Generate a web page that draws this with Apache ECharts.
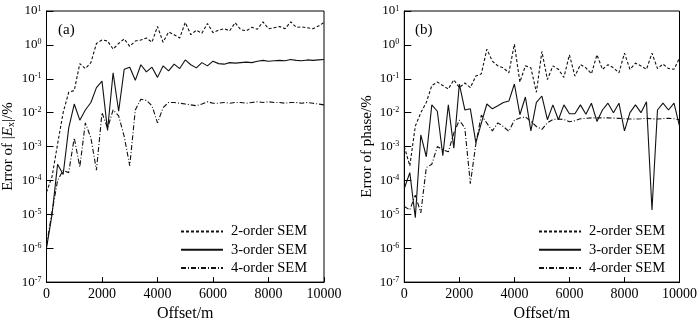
<!DOCTYPE html>
<html>
<head>
<meta charset="utf-8">
<script src="https://cdn.jsdelivr.net/npm/echarts@6/dist/echarts.min.js"></script>
<style>
  html, body { margin: 0; padding: 0; background: #fff; }
  #chart { width: 700px; height: 327px; }
</style>
</head>
<body>
<div id="chart"></div>
<script>
// offset (m)
const offsets = [0, 200, 400, 600, 800, 1000, 1200, 1400, 1600, 1800,
  2000, 2200, 2400, 2600, 2800, 3000, 3200, 3400, 3600, 3800,
  4000, 4200, 4400, 4600, 4800, 5000, 5200, 5400, 5600, 5800,
  6000, 6200, 6400, 6600, 6800, 7000, 7200, 7400, 7600, 7800,
  8000, 8200, 8400, 8600, 8800, 9000, 9200, 9400, 9600, 9800, 10000];

const seriesNames = ['2-order SEM', '3-order SEM', '4-order SEM'];
const xTicks = [0, 2000, 4000, 6000, 8000, 10000];

// (a) error of |Ex| (%)
const exOrder2 = [4.5e-5, 1.3e-4, 1.2e-3, 0.01, 0.04, 0.045, 0.28, 0.2, 0.3, 1.1,
  1.4, 1.3, 0.75, 1.1, 1.5, 0.9, 1.3, 1.4, 1.6, 1.2,
  3.5, 1.2, 2.4, 2.0, 1.6, 4.6, 2.0, 2.7, 2.2, 4.3,
  2.3, 2.7, 3.0, 2.6, 4.5, 2.8, 2.6, 3.3, 2.9, 4.8,
  3.0, 3.2, 3.5, 3.0, 4.8, 3.3, 3.4, 3.2, 3.0, 3.6, 4.6];
const exOrder3 = [1e-6, 1e-5, 3e-4, 1.5e-4, 3.5e-3, 0.018, 6e-3, 0.012, 0.02, 0.055,
  0.085, 3e-3, 0.15, 0.011, 0.19, 0.22, 0.09, 0.26, 0.16, 0.22,
  0.11, 0.24, 0.17, 0.27, 0.2, 0.36, 0.26, 0.21, 0.3, 0.24,
  0.33, 0.28, 0.27, 0.3, 0.29, 0.3, 0.31, 0.3, 0.33, 0.35,
  0.33, 0.34, 0.35, 0.34, 0.37, 0.35, 0.34, 0.36, 0.35, 0.36, 0.37];
const exOrder4 = [1.2e-6, 1.2e-5, 1e-4, 2e-4, 1.7e-4, 1.8e-3, 2.5e-4, 5e-3, 1.8e-3, 2e-4,
  0.01, 3.5e-3, 0.012, 8e-3, 2e-3, 2.7e-4, 0.012, 0.025, 0.023, 0.016,
  5e-3, 0.014, 0.02, 0.02, 0.019, 0.018, 0.017, 0.016, 0.018, 0.021,
  0.019, 0.019, 0.02, 0.019, 0.02, 0.02, 0.019, 0.02, 0.021, 0.02,
  0.021, 0.02, 0.02, 0.019, 0.02, 0.02, 0.019, 0.02, 0.019, 0.018, 0.017];

// (b) error of phase (%)
const phOrder2 = [1e-3, 2.7e-4, 4e-3, 0.01, 0.02, 0.063, 0.08, 0.063, 0.05, 0.093,
  0.055, 0.075, 0.055, 0.12, 0.14, 0.75, 0.33, 0.24, 0.21, 0.15,
  1.05, 0.08, 0.24, 0.21, 0.04, 0.64, 0.095, 0.24, 0.19, 0.11,
  0.51, 0.12, 0.26, 0.21, 0.14, 0.51, 0.19, 0.26, 0.21, 0.15,
  0.57, 0.19, 0.29, 0.24, 0.19, 0.57, 0.2, 0.27, 0.2, 0.19, 0.41];
const phOrder3 = [5.8e-5, 1.7e-4, 8e-6, 2.2e-3, 5e-4, 0.017, 0.011, 5.4e-4, 0.017, 9e-4,
  0.07, 0.012, 0.013, 1.3e-3, 4.9e-3, 0.018, 0.013, 0.016, 0.02, 0.022,
  0.07, 8.7e-3, 0.029, 2.9e-3, 0.02, 0.031, 6.2e-3, 0.017, 6.2e-3, 0.017,
  9.3e-3, 9.3e-3, 0.017, 9e-3, 0.019, 5.5e-3, 0.012, 0.019, 0.01, 0.019,
  2.9e-3, 0.01, 0.017, 0.01, 0.021, 1.35e-5, 0.012, 0.019, 0.012, 0.019, 4e-3];
const phOrder4 = [1.7e-5, 1.35e-5, 3.7e-5, 1.1e-5, 2.4e-4, 3e-4, 1e-3, 8e-4, 7e-4, 2.5e-3,
  6e-3, 3.5e-3, 8e-5, 1.2e-3, 8.5e-3, 4.9e-3, 2.9e-3, 5e-3, 3.9e-3, 2.8e-3,
  6e-3, 7e-3, 7.5e-3, 5.5e-3, 3.9e-3, 3.2e-3, 5e-3, 6.3e-3, 6.5e-3, 6.3e-3,
  5.4e-3, 5.8e-3, 6.6e-3, 6.8e-3, 7e-3, 7e-3, 7e-3, 7e-3, 6.9e-3, 6.8e-3,
  6.6e-3, 6.5e-3, 6.5e-3, 6.6e-3, 6.8e-3, 6.6e-3, 6.5e-3, 6.7e-3, 6.8e-3, 6.6e-3, 6.2e-3];

const FONT = '"Liberation Serif", "Times New Roman", serif';
const lineTypes = [[3, 2], 'solid', [5, 2, 1, 2]];

function pairs(vals) {
  return offsets.map((x, i) => [x, vals[i]]);
}

function xAxisOf(idx) {
  return {
    type: 'value', gridIndex: idx, min: xTicks[0], max: xTicks[xTicks.length - 1], interval: 2000,
    name: 'Offset/m', nameLocation: 'middle', nameGap: 20,
    nameTextStyle: { fontFamily: FONT, fontSize: 16, color: '#000' },
    axisLine: { lineStyle: { color: '#000', width: 1 } },
    axisTick: { inside: true, length: 5, lineStyle: { color: '#000' } },
    axisLabel: {
      fontFamily: FONT, fontSize: 14, color: '#000', margin: 5,
      formatter: function (v) { return String(v); }
    },
    splitLine: { show: false }
  };
}

function yAxisOf(idx, nameText) {
  return {
    type: 'log', logBase: 10, gridIndex: idx, min: 1e-7, max: 10, splitNumber: 8,
    name: nameText, nameLocation: 'middle', nameGap: 30, nameRotate: 90,
    nameTextStyle: {
      fontFamily: FONT, fontSize: 15, color: '#000',
      rich: {
        i: { fontFamily: FONT, fontSize: 15, fontStyle: 'italic', color: '#000' },
        sub: { fontFamily: FONT, fontSize: 10, color: '#000', verticalAlign: 'bottom', padding: [6, 0, 0, 0] }
      }
    },
    axisLine: { lineStyle: { color: '#000', width: 1 } },
    axisTick: { inside: true, length: 7, lineStyle: { color: '#000' } },
    axisLabel: {
      fontFamily: FONT, fontSize: 13, color: '#000', margin: 5,
      formatter: function (v) {
        const e = Math.round(Math.log10(v));
        return '{b|10}{s|' + e + '}';
      },
      rich: {
        b: { fontFamily: FONT, fontSize: 13, color: '#000', lineHeight: 13 },
        s: { fontFamily: FONT, fontSize: 8, color: '#000', verticalAlign: 'top', lineHeight: 8, padding: [0, 0, 7, 0] }
      }
    },
    splitLine: { show: false }
  };
}

function lineSeries(name, vals, k, idx) {
  return {
    name: name, type: 'line', xAxisIndex: idx, yAxisIndex: idx,
    data: pairs(vals), symbol: 'none', showSymbol: false,
    lineStyle: { color: '#111', width: 1.1, type: lineTypes[k] },
    itemStyle: { color: '#111' },
    emphasis: { disabled: true }
  };
}

function legendOf(left) {
  return {
    orient: 'vertical', left: left, top: 224, padding: 0,
    itemWidth: 42, itemHeight: 14, itemGap: 3.3,
    data: seriesNames,
    itemStyle: { opacity: 0 },
    textStyle: { fontFamily: FONT, fontSize: 14.5, color: '#000', padding: [0, 0, 0, 3] },
    selectedMode: false
  };
}

const chart = echarts.init(document.getElementById('chart'), null, { renderer: 'canvas' });
chart.setOption({
  animation: false,
  backgroundColor: '#fff',
  grid: [
    { left: 46.5, top: 11, width: 277.5, height: 277, show: true, borderColor: '#000', borderWidth: 1, backgroundColor: 'transparent' },
    { left: 404.3, top: 11, width: 278.3, height: 277, show: true, borderColor: '#000', borderWidth: 1, backgroundColor: 'transparent' }
  ],
  xAxis: [xAxisOf(0), xAxisOf(1)],
  yAxis: [
    yAxisOf(0, 'Error of |{i|E}{sub|x}|/%'),
    yAxisOf(1, 'Error of phase/%')
  ],
  legend: [legendOf(180), legendOf(538)],
  graphic: [
    { type: 'text', left: 58, top: 23, style: { text: '(a)', font: '15px ' + FONT, fill: '#000' } },
    { type: 'text', left: 415, top: 23, style: { text: '(b)', font: '15px ' + FONT, fill: '#000' } }
  ],
  series: [
    lineSeries(seriesNames[0], exOrder2, 0, 0),
    lineSeries(seriesNames[1], exOrder3, 1, 0),
    lineSeries(seriesNames[2], exOrder4, 2, 0),
    lineSeries(seriesNames[0], phOrder2, 0, 1),
    lineSeries(seriesNames[1], phOrder3, 1, 1),
    lineSeries(seriesNames[2], phOrder4, 2, 1)
  ]
});
</script>
</body>
</html>
